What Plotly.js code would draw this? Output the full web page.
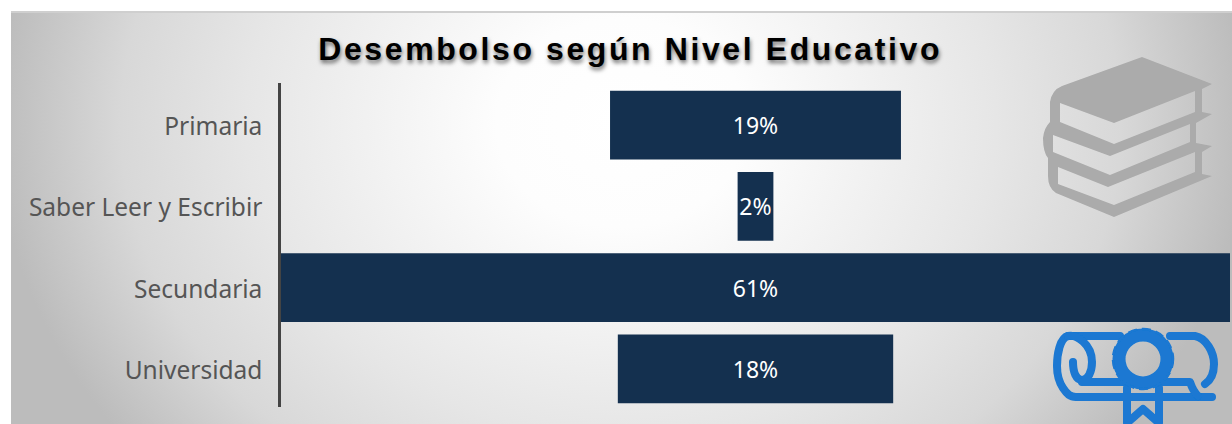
<!DOCTYPE html>
<html><head><meta charset="utf-8">
<script src="https://cdn.plot.ly/plotly-3.0.1.min.js"></script>
<style>
html,body{margin:0;padding:0;width:1232px;height:424px;background:#fff;overflow:hidden}
#panel{position:absolute;left:11px;top:11px;width:1221px;height:413px;box-sizing:border-box;border-top:2px solid #cfcfcf;
background:radial-gradient(ellipse 625px 520px at 610px 110px,#ffffff 0%,#fdfdfd 20%,#e6e6e6 60%,#d8d8d8 80%,#bcbcbc 100%)}
#chart{position:absolute;left:0;top:0;width:1232px;height:424px}
.gtitle{letter-spacing:2.6px}
.yaxislayer-above{transform:translate(0,1.5px)}
</style></head><body>
<div id="panel"></div>
<div id="chart"></div>
<script>
const categories=["Primaria","Saber Leer y Escribir","Secundaria","Universidad"];
const shares=[18.7,2.3,61,17.7];
const labels=["19%","2%","61%","18%"];
const titleText="Desembolso según Nivel Educativo";
const booksSvg=`<svg xmlns="http://www.w3.org/2000/svg" viewBox="0 0 212 190"><defs><filter id="b"><feGaussianBlur stdDeviation="0.6"/></filter></defs><path filter="url(#b)" fill="#ababab" fill-rule="evenodd" d="M122 17 L192 44 L182 49 L182 72 L192 74 L176 83 L176 103 L192 106 L182 112 L182 134 L192 136 L94 177 L36 153 Q28 148 28 136 L28 118 Q23 112 23 98 Q24 88 30 82 L30 62 Q32 50 42 46 Z M40 63 L40 82 L94 104 L175 72 L175 51 L94 83 Z M33 95 L33 112 L90 135 L170 102 L170 84 L90 116 Z M38 127 L38 144 L94 165 L175 132 L175 112 L88 147 Z"/></svg>`;
const scrollSvg=`<svg xmlns="http://www.w3.org/2000/svg" viewBox="0 0 202 104"><defs><filter id="b"><feGaussianBlur stdDeviation="0.6"/></filter></defs><g filter="url(#b)"><g fill="none" stroke="#1a78d2" stroke-width="8" stroke-linecap="round" stroke-linejoin="round"><path d="M90 16 L38 16 C30 18 27 34 27 46 C27 56 29 62 33 68 C37 74 40 77 46 77 L182 77"/><path d="M140 16 L165 16 C176 18 184 32 184 44 C184 52 181 60 175 64"/><path d="M38 16 C46 14 62 24 62 42 C62 52 58 60 52 60 C46 60 43 52 43 42"/><path d="M52 62 L96 62 M132 62 L160 62 C162 68 164 72 168 76"/><path d="M97 68 L97 103 L113 89 L129 103 L129 68"/></g><circle cx="113" cy="39" r="24" fill="none" stroke="#1a78d2" stroke-width="13"/><circle cx="113" cy="39" r="30" fill="none" stroke="#1a78d2" stroke-width="2.5" stroke-dasharray="9 5"/></g></svg>`;
const uri=s=>"data:image/svg+xml;charset=utf-8,"+encodeURIComponent(s);
const half=Math.max(...shares)/2;
Plotly.newPlot("chart",[{
  type:"funnel",orientation:"h",y:categories,x:shares,text:labels,textinfo:"text",
  textposition:"inside",insidetextanchor:"middle",constraintext:"none",
  textfont:{family:"'Noto Sans',sans-serif",size:23,color:"#ffffff"},
  marker:{color:"#14304f",line:{width:0}},connector:{visible:false},cliponaxis:false,hoverinfo:"skip"
}],{
  width:1232,height:424,paper_bgcolor:"rgba(0,0,0,0)",plot_bgcolor:"rgba(0,0,0,0)",showlegend:false,
  margin:{l:281,r:2,t:83,b:17},funnelgap:0.155,
  title:{text:titleText,x:0.5115,xanchor:"center",y:0.885,yanchor:"middle",
    font:{family:"'Liberation Sans',Arial,sans-serif",size:32,weight:700,color:"#000000",shadow:"1px 3px 4px rgba(0,0,0,0.55)"}},
  xaxis:{visible:false,range:[-half,half],fixedrange:true},
  yaxis:{range:[3.468,-0.517],showline:true,linewidth:3,linecolor:"#444444",showgrid:false,zeroline:false,ticks:"",ticklen:0,
    ticksuffix:"  ",ticklabelstandoff:-2,tickfont:{family:"'Noto Sans',sans-serif",size:24.5,color:"#555555"},fixedrange:true},
  images:[
    {source:uri(booksSvg),xref:"paper",yref:"paper",sizing:"stretch",layer:"below",xanchor:"left",yanchor:"top",
     x:(1020-281)/949,y:1-(40-83)/324,sizex:212/949,sizey:190/324},
    {source:uri(scrollSvg),xref:"paper",yref:"paper",sizing:"stretch",layer:"above",xanchor:"left",yanchor:"top",
     x:(1030-281)/949,y:1-(320-83)/324,sizex:202/949,sizey:104/324}
  ]
},{displayModeBar:false,staticPlot:true});
</script></body></html>
